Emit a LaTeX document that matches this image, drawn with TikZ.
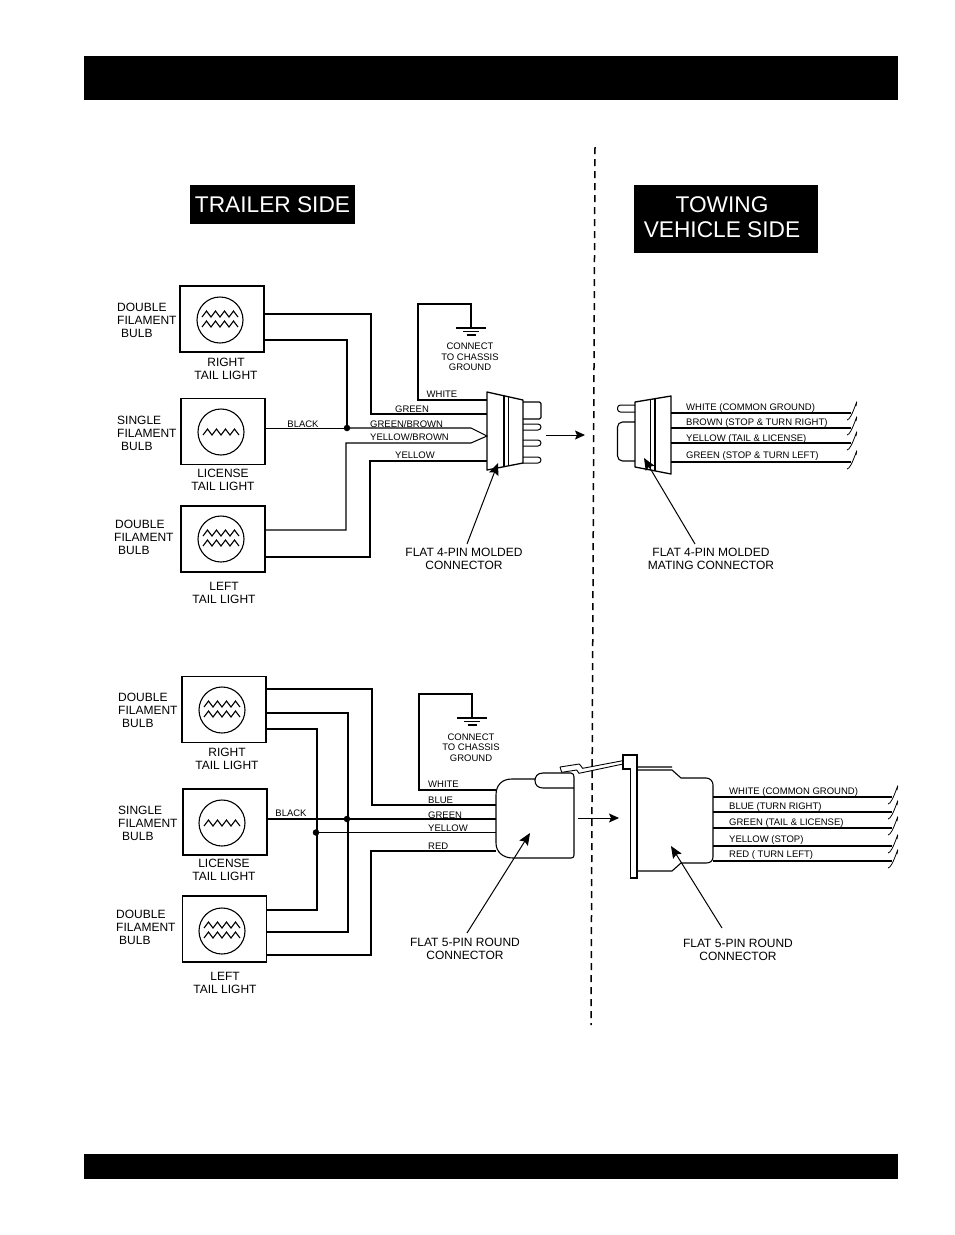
\documentclass[tikz,border=0pt]{standalone}
\usepackage{fontspec}
\setmainfont{Liberation Sans}
\usetikzlibrary{arrows.meta}
\tikzset{
  bar/.style={fill=black,draw=none},
  titlebox/.style={fill=black,text=white,inner sep=0pt,align=center,font=\fontsize{22.7}{25}\selectfont},
  lampbox/.style={draw,line width=1.1pt,minimum width=84pt,minimum height=66pt,inner sep=0pt},
  lamp/.style={draw,circle,line width=1.1pt,minimum size=46pt,inner sep=0pt},
  zig/.style={line width=1.1pt,line join=miter},
  wire/.style={line width=1.05pt,line join=miter},
  thinwire/.style={line width=.8pt},
  outline/.style={line width=1.1pt,line join=round},
  leader/.style={line width=1pt,-{Stealth[length=12pt,width=10pt,inset=2pt]}},
  lbl/.style={font=\fontsize{12}{13}\selectfont,inner sep=0pt,align=center},
  lft/.style={font=\fontsize{12}{13}\selectfont,inner sep=0pt,anchor=west},
  tiny/.style={font=\fontsize{9.5}{10.3}\selectfont,inner sep=0pt,align=center},
  tinyl/.style={font=\fontsize{9.5}{11}\selectfont,inner sep=0pt,anchor=west},
  tinyr/.style={tinyl,yshift=-1pt},
  junction/.style={circle,fill=black,inner sep=0pt,minimum size=6.5pt},
}
\newcommand{\zigline}[2]{\draw[zig] (#1) ++(-18,#2) -- ++(4.5,-6) -- ++(4.5,6) -- ++(4.5,-6) -- ++(4.5,6) -- ++(4.5,-6) -- ++(4.5,6) -- ++(4.5,-6) -- ++(4.5,6);}
\newcommand{\squig}[1]{\draw[line width=.8pt] (#1) ++(-4,7) .. controls ++(5,0) and ++(3,-14) .. ++(9,-14);}
\newcommand{\gnd}[1]{\draw[line width=1.1pt] (#1) ++(-15,0) -- ++(30,0) ++(-23,3.5) -- ++(16,0) ++(-12.5,3.5) -- ++(9,0);}
\begin{document}
\begin{tikzpicture}[x=1pt,y=-1pt]
\useasboundingbox (0,0) rectangle (954,1235);
\fill[white] (0,0) rectangle (954,1235);
\fill[bar] (84,56) rectangle (898,100);
\fill[bar] (84,1154) rectangle (898,1179);
\coordinate (divT) at (595,147);
\coordinate (divB) at (591,1025);
\draw[line width=1.5pt,dash pattern=on 7pt off 5pt] (divT) -- (divB);
\node[titlebox,minimum width=165pt,minimum height=39pt] (trailer) at (272.5,204.5) {TRAILER SIDE};
\fill[black] (634,185) rectangle (817.5,253);
\node[titlebox,fill=none] (towing) at (722,217) {TOWING\\VEHICLE SIDE};

% ---------- upper lamps
\node[lampbox] (ar) at (222,319) {};
\node[lampbox] (al) at (223,431.5) {};
\node[lampbox] (af) at (223,539) {};
\node[lamp] (arc) at (220,320) {};
\node[lamp] (alc) at (221,432) {};
\node[lamp] (afc) at (221,539) {};
\zigline{arc}{-3}\zigline{arc}{7}
\zigline{alc}{3}
\zigline{afc}{-3}\zigline{afc}{7}

\node[lft] (t1a) at (117,307) {DOUBLE};
\node[lft] (t1b) at (117,320) {FILAMENT};
\node[lft] (t1c) at (121,333) {BULB};
\node[lft] (t2a) at (117,420) {SINGLE};
\node[lft] (t2b) at (117,433) {FILAMENT};
\node[lft] (t2c) at (121,446) {BULB};
\node[lft] (t3a) at (115,524) {DOUBLE};
\node[lft] (t3b) at (114,537) {FILAMENT};
\node[lft] (t3c) at (118,550) {BULB};
\node[lbl] (c1) at (226,368.5) {RIGHT\\TAIL LIGHT};
\node[lbl] (c2) at (223,479.5) {LICENSE\\TAIL LIGHT};
\node[lbl] (c3) at (224,592.5) {LEFT\\TAIL LIGHT};

% upper connector
\coordinate (cw) at (487,430);
\coordinate (tip) at (487,436);
\node[junction] (ja) at (347,428) {};
\draw[outline,line width=1.3pt] (487,392) -- (523,400) -- (523,463) -- (487,470) -- cycle;
\draw[line width=1.2pt] (504,395.5) -- (504,466.5) (508.5,396.5) -- (508.5,465.5);
\draw[outline,rounded corners=1.5pt] (523,402) -- (541,402) -- (541,419) -- (523,419);
\foreach \y in {427,443,460}{
  \draw[line width=1pt,rounded corners=3pt] (523,\y-3) -- (541,\y-3) -- (541,\y+3) -- (523,\y+3);
}
\draw[wire] (ar.east |- 0,314) -- (371,314) -- (371,414) -- (cw |- 0,414);
\draw[wire] (ar.east |- 0,340) -- (347,340) -- (ja.center);
\draw[thinwire] (al.east |- ja) -- (ja.center);
\draw[wire] (ja.center) -- (471,428) -- (tip) -- (471,443) -- (346,443) -- (346,530) -- (af.east |- 0,530);
\draw[wire] (af.east |- 0,557) -- (370,557) -- (370,461) -- (cw |- 0,461);
\draw[wire] (cw |- 0,400) -- (418,400) -- (418,304) -- (471,304) -- (471,328);
\gnd{471,328}
\node[tiny] (g1) at (470,357) {CONNECT\\TO CHASSIS\\GROUND};
\node[tiny] (w1) at (442,394) {WHITE};
\node[tiny] (w2) at (412,409) {GREEN};
\node[tiny] (w3) at (303,424) {BLACK};
\node[tinyl] (w4) at (370,424) {GREEN/BROWN};
\node[tinyl] (w5) at (370,437) {YELLOW/BROWN};
\node[tiny] (w6) at (415,455) {YELLOW};
\coordinate (a1s) at (546,435);
\coordinate (a1e) at (585,435);
\draw[line width=1pt,-{Stealth[length=10pt,width=9pt,inset=2pt]}] (a1s) -- (a1e);
\coordinate (l1) at (467,544);
\coordinate (l1t) at (498,463);
\draw[leader] (l1) -- (l1t);
\node[lbl] (f1) at (464,558.5) {FLAT 4-PIN MOLDED\\CONNECTOR};

% upper right connector
\draw[outline,line width=1.3pt] (635,402) -- (671,396) -- (671,474) -- (635,467) -- cycle;
\draw[line width=1.2pt] (650.5,400) -- (650.5,470) (655,399) -- (655,471);
\draw[line width=1pt,rounded corners=3pt] (635,405) -- (617.5,405) -- (617.5,412) -- (635,412);
\draw[outline,rounded corners=5pt] (635,422) -- (617.5,422) -- (617.5,461) -- (635,461);
\foreach \y/\n in {413/a,428/b,443/c,462/d}{
  \coordinate (e\n) at (851,\y);
  \draw[wire] (671,\y) -- (e\n);
  \squig{e\n}
}
\node[tinyr] (r1) at (686,407) {WHITE (COMMON GROUND)};
\node[tinyr] (r2) at (686,422) {BROWN (STOP \& TURN RIGHT)};
\node[tinyr] (r3) at (686,438) {YELLOW (TAIL \& LICENSE)};
\node[tinyr] (r4) at (686,455) {GREEN (STOP \& TURN LEFT)};
\coordinate (l2) at (695,544);
\coordinate (l2t) at (644,458);
\draw[leader] (l2) -- (l2t);
\node[lbl] (f2) at (711,558.5) {FLAT 4-PIN MOLDED\\MATING CONNECTOR};

% ---------- lower lamps
\node[lampbox] (br) at (224,709.5) {};
\node[lampbox] (bl) at (225,822) {};
\node[lampbox] (bf) at (224.5,929) {};
\node[lamp] (brc) at (222,710) {};
\node[lamp] (blc) at (222,823) {};
\node[lamp] (bfc) at (222,931) {};
\zigline{brc}{-3}\zigline{brc}{7}
\zigline{blc}{3}
\zigline{bfc}{-3}\zigline{bfc}{7}

\node[lft] (u1a) at (118,697) {DOUBLE};
\node[lft] (u1b) at (118,710) {FILAMENT};
\node[lft] (u1c) at (122,723) {BULB};
\node[lft] (u2a) at (118,810) {SINGLE};
\node[lft] (u2b) at (118,823) {FILAMENT};
\node[lft] (u2c) at (122,836) {BULB};
\node[lft] (u3a) at (116,914) {DOUBLE};
\node[lft] (u3b) at (116,927) {FILAMENT};
\node[lft] (u3c) at (119,940) {BULB};
\node[lbl] (d1) at (227,758.5) {RIGHT\\TAIL LIGHT};
\node[lbl] (d2) at (224,869.5) {LICENSE\\TAIL LIGHT};
\node[lbl] (d3) at (225,982.5) {LEFT\\TAIL LIGHT};

% lower left connector
\coordinate (cx) at (496,820);
\node[junction] (jb) at (347,819) {};
\node[junction] (jc) at (316,832.5) {};
\draw[outline] (535,779) -- (512,779) .. controls (502,779) and (496,785) .. (496,795)
  -- (496,843) .. controls (496,852) and (503,858) .. (513,858) -- (571,858)
  .. controls (573,858) and (574,857) .. (574,855) -- (574,777)
  .. controls (574,775) and (573,773) .. (571,773) -- (543,773)
  .. controls (537,773) and (535,777) .. (535,780.5) .. controls (535,785) and (538,788) .. (543,788) -- (574,788);
\draw[line width=.9pt] (560,767) -- (579.3,764) -- (582.7,768.3) -- (622.7,760.7)
  (560,767) -- (561.7,772.3) (561.7,772.3) -- (576.7,770) -- (579,773.3) -- (623,764);
\draw[wire] (br.east |- 0,689) -- (372,689) -- (372,805) -- (cx |- 0,805);
\draw[wire] (br.east |- 0,713) -- (348,713) -- (348,932) -- (bf.east |- 0,932);
\draw[wire] (br.east |- 0,729) -- (317,729) -- (317,910) -- (bf.east |- 0,910);
\draw[wire] (bl.east |- jb) -- (jb.center) -- (cx |- jb);
\draw[wire] (jc.center) -- (cx |- jc);
\draw[wire] (bf.east |- 0,955) -- (371,955) -- (371,851) -- (cx |- 0,851);
\draw[wire] (cx |- 0,790) -- (419,790) -- (419,694) -- (472,694) -- (472,718);
\gnd{472,718}
\node[tiny] (g2) at (471,747.5) {CONNECT\\TO CHASSIS\\GROUND};
\node[tinyl] (x1) at (428,784) {WHITE};
\node[tinyl] (x2) at (428,800) {BLUE};
\node[tinyl] (x3) at (428,815) {GREEN};
\node[tinyl] (x4) at (428,828) {YELLOW};
\node[tinyl] (x5) at (428,846) {RED};
\node[tiny] (x6) at (291,813) {BLACK};
\coordinate (a2s) at (578,818);
\coordinate (a2e) at (619,818);
\draw[line width=1pt,-{Stealth[length=10pt,width=9pt,inset=2pt]}] (a2s) -- (a2e);
\coordinate (l3) at (467,933);
\coordinate (l3t) at (530,833);
\draw[leader] (l3) -- (l3t);
\node[lbl] (f3) at (465,948.5) {FLAT 5-PIN ROUND\\CONNECTOR};

% lower right connector
\draw[line width=1.2pt,fill=white] (623,755) -- (637,755) -- (637,878) -- (630.5,878) -- (630.5,769) -- (623,769) -- cycle;
\draw[outline] (637,767) -- (672,767) (637,770) -- (672,770) -- (681,778) -- (706,778)
  .. controls (710,778) and (713,781) .. (713,785) -- (713,857)
  .. controls (713,861) and (710,863) .. (706,863) -- (681,863) -- (672,871) -- (637,871);
\foreach \y/\n in {797/a,812/b,828/c,846/d,861/e}{
  \coordinate (p\n) at (892,\y);
  \draw[wire] (713,\y) -- (p\n);
  \squig{p\n}
}
\node[tinyr] (y1) at (729,791) {WHITE (COMMON GROUND)};
\node[tinyr] (y2) at (729,806) {BLUE (TURN RIGHT)};
\node[tinyr] (y3) at (729,822) {GREEN (TAIL \& LICENSE)};
\node[tinyr] (y4) at (729,839) {YELLOW (STOP)};
\node[tinyr] (y5) at (729,854) {RED ( TURN LEFT)};
\coordinate (l4) at (722,928);
\coordinate (l4t) at (671,846);
\draw[leader] (l4) -- (l4t);
\node[lbl] (f4) at (738,949.5) {FLAT 5-PIN ROUND\\CONNECTOR};
\end{tikzpicture}
\end{document}
